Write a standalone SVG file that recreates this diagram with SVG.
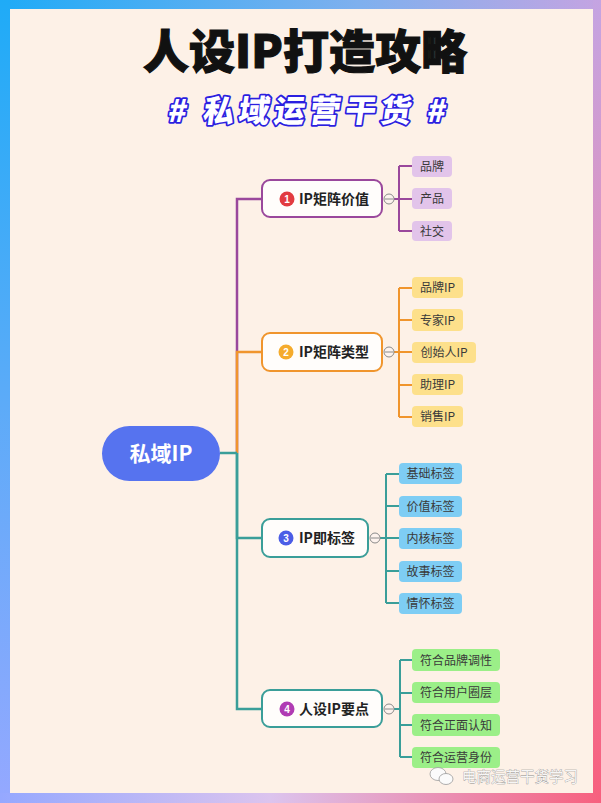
<svg xmlns="http://www.w3.org/2000/svg" width="601" height="803" viewBox="0 0 601 803">
<defs>
<linearGradient id="frame" x1="0" y1="0" x2="1" y2="1">
<stop offset="0" stop-color="#1fabf7"/>
<stop offset="0.5" stop-color="#b4aaee"/>
<stop offset="1" stop-color="#f7607e"/>
</linearGradient>
<linearGradient id="gTop" x1="0" y1="0" x2="1" y2="0">
<stop offset="0" stop-color="#1fabf7"/>
<stop offset="0.6" stop-color="#7fb0ee"/>
<stop offset="1" stop-color="#c4a4e2"/>
</linearGradient>
<linearGradient id="gLeft" x1="0" y1="0" x2="0" y2="1">
<stop offset="0" stop-color="#1fabf7"/>
<stop offset="0.5" stop-color="#5cabf8"/>
<stop offset="1" stop-color="#95a8ff"/>
</linearGradient>
<linearGradient id="gRight" x1="0" y1="0" x2="0" y2="1">
<stop offset="0" stop-color="#c4a4e2"/>
<stop offset="0.5" stop-color="#e98aae"/>
<stop offset="1" stop-color="#f7607e"/>
</linearGradient>
<linearGradient id="gBottom" x1="0" y1="0" x2="1" y2="0">
<stop offset="0" stop-color="#95a8ff"/>
<stop offset="0.45" stop-color="#dcc4ee"/>
<stop offset="1" stop-color="#f7607e"/>
</linearGradient>
<style>
.title{font-family:"Noto Sans CJK SC","Noto Sans",sans-serif;font-weight:900;fill:#111;stroke:#111;stroke-width:1.2}
.sub{font-family:"Noto Sans CJK SC","Noto Sans",sans-serif;font-weight:900;fill:#fff;stroke:#2b1fe0;stroke-width:3.5;paint-order:stroke;stroke-linejoin:round}
.node{fill:#fffdfb;stroke-width:2}
.ntext{font-family:"Noto Sans CJK SC","Noto Sans",sans-serif;font-weight:700;font-size:14px;fill:#222}
.btext{font-family:"Liberation Sans",sans-serif;font-weight:700;font-size:10px;fill:#fff;text-anchor:middle}
.ctext{font-family:"Noto Sans CJK SC","Noto Sans",sans-serif;font-size:12px;fill:#3a3a3a;text-anchor:middle}
.coll{fill:#fdf3ee;stroke:#8a8a8a;stroke-width:1}
.line{fill:none;stroke-width:2.5}
.cline{fill:none;stroke-width:2}
.p{stroke:#9a489c}.o{stroke:#f0952d}.t{stroke:#3a9e99}
</style>
</defs>
<rect x="0" y="0" width="601" height="803" fill="url(#frame)"/>
<rect x="0" y="0" width="601" height="9" fill="url(#gTop)"/>
<rect x="0" y="0" width="10" height="803" fill="url(#gLeft)"/>
<rect x="593" y="0" width="8" height="803" fill="url(#gRight)"/>
<rect x="0" y="793" width="601" height="10" fill="url(#gBottom)"/>
<rect x="10" y="9" width="583" height="784" fill="#fdf1e7"/>

<text class="title" x="305" y="68" font-size="46" text-anchor="middle" textLength="324" lengthAdjust="spacing">人设IP打造攻略</text>
<text class="sub" x="0" y="0" font-size="31" text-anchor="middle" transform="translate(306,122) skewX(-8)" textLength="278" lengthAdjust="spacing"># 私域运营干货 #</text>

<g id="connectors">
<path class="line p" d="M237,453 V199 H262"/>
<path class="line o" d="M237,453 V352 H262"/>
<path class="line t" d="M237,453 V538 H262"/>
<path class="line t" d="M237,453 V709 H262"/>
<path class="line t" d="M220,453 H237"/>
<path class="cline p" d="M394,199 H399 M399,166 V231 M399,166 H412 M399,199 H412 M399,231 H412"/>
<path class="cline o" d="M394,352 H399 M399,288 V417 M399,288 H412 M399,320 H412 M399,352 H412 M399,385 H412 M399,417 H412"/>
<path class="cline t" d="M380,538 H386 M386,474 V603 M386,474 H399 M386,506 H399 M386,538 H399 M386,571 H399 M386,603 H399"/>
<path class="cline t" d="M394,709 H400 M400,660 V757 M400,660 H412 M400,693 H412 M400,725 H412 M400,757 H412"/>
</g>

<g id="root">
<rect x="102" y="426" width="118" height="55" rx="27.5" fill="#5673ef"/>
<text x="161" y="461" font-family="'Noto Sans CJK SC','Noto Sans',sans-serif" font-weight="700" font-size="21" fill="#fff" text-anchor="middle">私域IP</text>
</g>

<g id="n1">
<rect class="node p" x="262" y="180" width="120" height="37" rx="8"/>
<circle cx="287" cy="199" r="7.5" fill="#e23b40"/>
<text class="btext" x="287" y="202.5">1</text>
<text class="ntext" x="299" y="204">IP矩阵价值</text>
<circle class="coll" cx="389" cy="199" r="5"/><path d="M385,199 H393" stroke="#8a8a8a" stroke-width="1"/>
</g>
<g id="n1c1"><rect x="412" y="156" width="40" height="21" rx="4" fill="#e2c4ea"/><text class="ctext" x="432" y="171">品牌</text></g>
<g id="n1c2"><rect x="412" y="188" width="40" height="21" rx="4" fill="#e2c4ea"/><text class="ctext" x="432" y="203">产品</text></g>
<g id="n1c3"><rect x="412" y="221" width="40" height="20" rx="4" fill="#e2c4ea"/><text class="ctext" x="432" y="235.5">社交</text></g>

<g id="n2">
<rect class="node o" x="262" y="333" width="120" height="38" rx="8"/>
<circle cx="286" cy="352" r="7.5" fill="#f5ab2c"/>
<text class="btext" x="286" y="355.5">2</text>
<text class="ntext" x="299" y="357">IP矩阵类型</text>
<circle class="coll" cx="389" cy="352" r="5"/><path d="M385,352 H393" stroke="#8a8a8a" stroke-width="1"/>
</g>
<g id="n2c1"><rect x="412" y="277" width="51" height="21" rx="4" fill="#fde08b"/><text class="ctext" x="437.5" y="292">品牌IP</text></g>
<g id="n2c2"><rect x="412" y="309" width="51" height="22" rx="4" fill="#fde08b"/><text class="ctext" x="437.5" y="324.5">专家IP</text></g>
<g id="n2c3"><rect x="412" y="342" width="64" height="21" rx="4" fill="#fde08b"/><text class="ctext" x="444" y="357">创始人IP</text></g>
<g id="n2c4"><rect x="412" y="374" width="51" height="21" rx="4" fill="#fde08b"/><text class="ctext" x="437.5" y="389">助理IP</text></g>
<g id="n2c5"><rect x="412" y="406" width="51" height="21" rx="4" fill="#fde08b"/><text class="ctext" x="437.5" y="421">销售IP</text></g>

<g id="n3">
<rect class="node t" x="262" y="519" width="106" height="38" rx="8"/>
<circle cx="286" cy="538" r="7.5" fill="#4b5de6"/>
<text class="btext" x="286" y="541.5">3</text>
<text class="ntext" x="299" y="543">IP即标签</text>
<circle class="coll" cx="375" cy="538" r="5"/><path d="M371,538 H379" stroke="#8a8a8a" stroke-width="1"/>
</g>
<g id="n3c1"><rect x="399" y="463" width="63" height="21" rx="4" fill="#7ecdf4"/><text class="ctext" x="430.5" y="478">基础标签</text></g>
<g id="n3c2"><rect x="399" y="496" width="63" height="21" rx="4" fill="#7ecdf4"/><text class="ctext" x="430.5" y="511">价值标签</text></g>
<g id="n3c3"><rect x="399" y="528" width="63" height="21" rx="4" fill="#7ecdf4"/><text class="ctext" x="430.5" y="543">内核标签</text></g>
<g id="n3c4"><rect x="399" y="561" width="63" height="21" rx="4" fill="#7ecdf4"/><text class="ctext" x="430.5" y="576">故事标签</text></g>
<g id="n3c5"><rect x="399" y="593" width="63" height="21" rx="4" fill="#7ecdf4"/><text class="ctext" x="430.5" y="608">情怀标签</text></g>

<g id="n4">
<rect class="node t" x="262" y="690" width="120" height="37" rx="8"/>
<circle cx="287" cy="709" r="7.5" fill="#b03bb3"/>
<text class="btext" x="287" y="712.5">4</text>
<text class="ntext" x="299" y="714">人设IP要点</text>
<circle class="coll" cx="389" cy="709" r="5"/><path d="M385,709 H393" stroke="#8a8a8a" stroke-width="1"/>
</g>
<g id="n4c1"><rect x="412" y="649" width="88" height="22" rx="4" fill="#9bef88"/><text class="ctext" x="456" y="664.5">符合品牌调性</text></g>
<g id="n4c2"><rect x="412" y="682" width="88" height="21" rx="4" fill="#9bef88"/><text class="ctext" x="456" y="697">符合用户圈层</text></g>
<g id="n4c3"><rect x="412" y="714" width="88" height="22" rx="4" fill="#9bef88"/><text class="ctext" x="456" y="729.5">符合正面认知</text></g>
<g id="n4c4"><rect x="412" y="747" width="88" height="21" rx="4" fill="#9bef88"/><text class="ctext" x="456" y="762">符合运营身份</text></g>

<g id="watermark">
<ellipse cx="438" cy="774" rx="8" ry="6.5" fill="#fbfbfb" stroke="#9a9a9a" stroke-width="0.8"/>
<ellipse cx="446" cy="779" rx="7" ry="5.5" fill="#fbfbfb" stroke="#9a9a9a" stroke-width="0.8"/>
<text x="462" y="782" font-family="'Noto Sans CJK SC','Noto Sans',sans-serif" font-size="14.5" fill="#f6f6f6" stroke="#8a8a8a" stroke-width="0.6" paint-order="stroke">电商运营干货学习</text>
</g>
</svg>
